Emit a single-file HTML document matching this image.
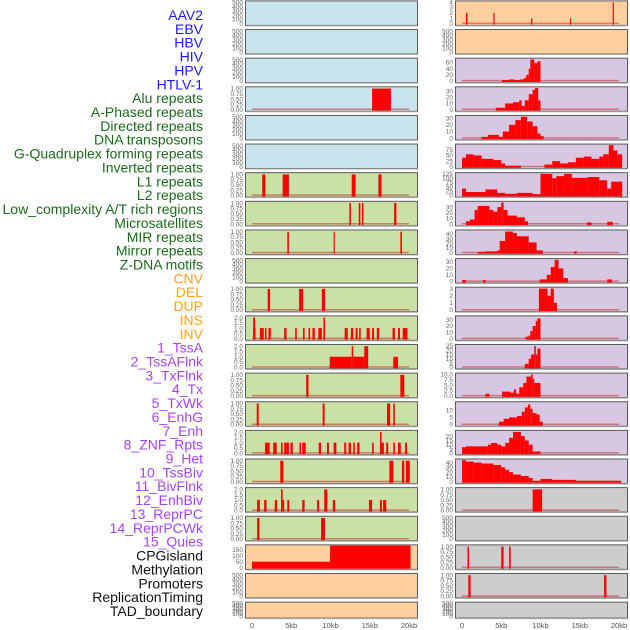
<!DOCTYPE html>
<html><head><meta charset="utf-8">
<style>
html,body{margin:0;padding:0;background:#fff;}
svg{display:block;font-family:"Liberation Sans",sans-serif;}
</style></head>
<body>
<svg id="chart" width="630" height="630" viewBox="0 0 630 630" xmlns="http://www.w3.org/2000/svg"></svg>
<script>
// ---- data ----
const trackLabels = ["AAV2","EBV","HBV","HIV","HPV","HTLV-1","Alu repeats","A-Phased repeats","Directed repeats","DNA transposons","G-Quadruplex forming repeats","Inverted repeats","L1 repeats","L2 repeats","Low_complexity A/T rich regions","Microsatellites","MIR repeats","Mirror repeats","Z-DNA motifs","CNV","DEL","DUP","INS","INV","1_TssA","2_TssAFlnk","3_TxFlnk","4_Tx","5_TxWk","6_EnhG","7_Enh","8_ZNF_Rpts","9_Het","10_TssBiv","11_BivFlnk","12_EnhBiv","13_ReprPC","14_ReprPCWk","15_Quies","CPGisland","Methylation","Promoters","ReplicationTiming","TAD_boundary"];
const labelGroups = ["v","v","v","v","v","v","r","r","r","r","r","r","r","r","r","r","r","r","r","s","s","s","s","s","c","c","c","c","c","c","c","c","c","c","c","c","c","c","c","o","o","o","o","o"];
const xTickValues = [0,5,10,15,20];
const xTickLabels = ["0","5kb","10kb","15kb","20kb"];

// left column segments [startKb, endKb, value]
const L0=[],L1=[],L2=[],L4=[],L5=[],L9=[],L20=[],L21=[];
const L3=[[15.3,17.7,1]];
const L6=[[1.3,1.7,1],[3.9,4.7,1],[12.7,13.2,1],[16.1,16.5,1]];
const L7=[[12.4,12.6,1],[13.6,13.8,1],[14.0,14.2,1],[18.1,18.4,1]];
const L8=[[4.5,4.7,1],[10.4,10.55,1],[18.9,19.1,1]];
const L10=[[2.0,2.3,1],[6.0,6.5,1],[8.9,9.3,1]];
const L11=[[0.15,0.4,2],[0.15,0.45,1],[1.0,1.5,1],[1.65,1.85,1],[2.1,2.4,1],[4.1,4.4,1],[5.5,5.7,1],[6.5,6.7,1],[7.2,7.4,1],[7.7,8.0,1],[8.45,8.9,1],[9.1,9.3,2],[9.1,9.3,1],[11.8,12.2,1],[12.6,12.9,1],[13.2,13.45,1],[13.65,13.85,1],[14.6,15.0,1],[15.3,15.55,1],[15.9,16.2,1],[17.9,18.2,1],[18.6,18.85,1],[19.2,19.8,1]];
const L12=[[9.9,12.7,1],[12.7,12.9,2],[12.9,14.3,1],[14.3,14.8,2],[18.0,18.6,1]];
const L13=[[6.9,7.2,1],[18.9,19.4,1]];
const L14=[[0.6,0.85,1],[9.0,9.25,1],[17.2,17.6,1],[18.0,18.2,1]];
const L15=[[1.65,2.25,1],[2.7,3.15,1],[3.7,3.9,1],[4.1,4.7,1],[4.9,5.2,1],[6.05,6.25,1],[6.4,6.85,1],[8.5,8.8,1],[9.55,9.8,1],[10.4,10.75,1],[11.75,12.0,1],[12.3,12.6,1],[12.9,13.1,1],[13.4,13.7,1],[15.3,15.5,1],[16.3,16.5,2],[16.5,16.8,1],[17.1,17.35,1],[18.0,18.2,1],[18.6,18.95,1],[19.5,19.75,1]];
const L16=[[3.6,4.0,1],[17.5,18.0,1],[19.1,19.4,1],[19.6,20.1,1]];
const L17=[[0.65,1.0,1],[1.55,1.85,1],[2.9,3.2,1],[3.7,3.9,2],[3.9,4.1,1],[4.5,4.75,1],[6.4,6.7,1],[8.3,8.55,1],[9.2,9.6,2],[10.3,10.6,1],[14.9,15.3,1],[16.3,16.55,1],[16.7,17.1,1]];
const L18=[[0.65,0.95,1],[8.8,9.3,1]];
const L19=[[0,9.95,50],[9.95,20.2,185]];

// right column segments
const R1=[],R18=[],R21=[];
const R0=[[0.5,0.7,2],[4.0,4.15,2],[8.8,8.95,1],[13.75,13.9,1],[19.2,19.35,4]];
const R2=[[5.1,6.0,3],[6.0,6.6,5],[6.6,7.4,3],[7.4,7.9,5],[7.9,8.2,10],[8.2,8.5,20],[8.5,8.7,40],[8.7,9.2,70],[9.2,9.6,58],[9.6,10.0,64]];
const R3=[[4.3,5.5,3],[5.5,6.5,10],[6.5,7.3,12],[7.3,7.6,15],[7.6,8.0,6],[8.0,8.5,15],[8.5,9.0,25],[9.0,9.3,32],[9.3,9.7,35],[9.7,10.0,15]];
const R4=[[2.5,3.3,2],[3.3,4.7,5],[4.7,5.2,2],[5.2,6.0,10],[6.0,6.8,20],[6.8,7.5,27],[7.5,8.3,32],[8.3,9.0,25],[9.0,9.6,18],[9.6,10.0,7],[10.0,10.4,3]];
const R5=[[0,0.5,40],[0.5,1.5,55],[1.5,2.5,50],[2.5,4.0,35],[4.0,5.0,30],[5.0,5.5,15],[5.5,7.5,5],[10.5,11.5,10],[11.5,12.5,25],[12.5,13.5,15],[13.5,14.5,20],[14.5,15.5,40],[15.5,16.5,45],[16.5,17.5,35],[17.5,18.0,45],[18.0,18.7,55],[18.7,19.3,95],[19.3,19.8,72],[19.8,20.4,55]];
const R6=[[0,0.5,40],[0.5,3.0,20],[3.0,4.5,35],[4.5,5.5,15],[5.5,7.0,10],[7.0,9.0,15],[9.0,10.0,8],[10.0,11.5,125],[11.5,12.0,100],[12.0,13.0,112],[13.0,14.0,125],[14.0,16.0,102],[16.0,17.5,107],[17.5,18.5,88],[18.5,19.0,40],[19.0,20.4,80]];
const R7=[[0.5,1.0,5],[1.0,1.6,8],[1.6,2.0,25],[2.0,3.5,32],[3.5,4.0,25],[4.0,4.5,22],[4.5,5.0,30],[5.0,5.3,38],[5.3,5.8,25],[5.8,7.0,15],[7.0,8.0,12],[8.0,8.4,5],[15.9,16.5,3],[18.5,19.2,4]];
const R8=[[2.0,3.0,2],[3.0,4.5,3],[4.5,4.8,5],[4.8,5.5,25],[5.5,6.5,45],[6.5,7.0,42],[7.0,8.5,35],[8.5,9.5,22],[9.5,10.3,5],[14.3,14.6,3]];
const R9=[[0,0.5,2],[2.7,3.0,2],[9.9,10.8,3],[10.8,11.3,10],[11.3,11.8,22],[11.8,12.3,33],[12.3,12.9,20],[12.9,13.5,5],[18.5,19.1,3]];
const R10=[[9.8,10.9,3],[10.9,11.3,2],[11.3,11.7,3],[11.7,12.1,1]];
const R11=[[8.1,8.5,3],[8.5,8.7,5],[8.7,9.0,12],[9.0,9.4,20],[9.4,9.6,28],[9.6,10.0,32]];
const R12=[[8.0,8.5,4],[8.5,8.8,10],[8.8,9.2,15],[9.2,9.4,25],[9.4,9.6,15],[9.6,10.0,22]];
const R13=[[3.0,3.5,1],[5.1,6.2,2],[6.2,6.6,1.5],[6.6,6.9,3],[6.9,7.3,1],[7.3,7.8,4],[7.8,8.2,6],[8.2,8.8,9],[8.8,9.0,10],[9.0,9.2,8],[9.2,10.0,6]];
const R14=[[4.7,5.3,2],[5.3,6.0,4],[6.0,7.0,5],[7.0,7.6,6],[7.6,8.0,9],[8.0,8.4,12],[8.4,8.7,14],[8.7,9.0,11],[9.0,9.5,8],[9.5,9.9,7],[9.9,10.3,2]];
const R15=[[0,0.5,7],[0.5,3.3,8],[3.3,3.7,10],[3.7,4.5,12],[4.5,5.0,10],[5.0,5.5,8],[5.5,6.0,12],[6.0,6.5,18],[6.5,7.5,25],[7.5,8.0,20],[8.0,8.5,15],[8.5,9.0,10],[9.0,10.0,2]];
const R16=[[0,0.5,45],[0.5,1.5,42],[1.5,2.5,40],[2.5,4.0,38],[4.0,5.0,35],[5.0,5.5,30],[5.5,6.0,25],[6.0,6.5,20],[6.5,7.5,15],[7.5,8.5,12],[8.5,9.0,8],[9.0,10.0,2],[10.0,11.5,6],[11.5,14.5,4],[14.5,20.3,2]];
const R17=[[9.0,10.2,1]];
const R19=[[0.7,0.9,1],[5.0,5.3,1],[6.0,6.2,1]];
const R20=[[0.8,1.1,1],[18.1,18.4,1]];

// y-axis tick sets
const T500=[0,100,200,300,400,500], T1=[0,0.25,0.5,0.75,1], T2=[0,0.5,1,1.5,2];
const leftSegs=[L0,L1,L2,L3,L4,L5,L6,L7,L8,L9,L10,L11,L12,L13,L14,L15,L16,L17,L18,L19,L20,L21];
const leftMax=[520,520,520,1.05,520,520,1.05,1.05,1.05,520,1.05,2.1,2.1,1.05,1.05,2.1,1.05,2.1,1.05,185,520,520];
const leftTicks=[T500,T500,T500,T1,T500,T500,T1,T1,T1,T500,T1,T2,T2,T1,T1,T2,T1,T2,T1,[0,50,100,150],T500,T500];
const leftBg=["b","b","b","b","b","b","g","g","g","g","g","g","g","g","g","g","g","g","g","o","o","o"];
const rightSegs=[R0,R1,R2,R3,R4,R5,R6,R7,R8,R9,R10,R11,R12,R13,R14,R15,R16,R17,R18,R19,R20,R21];
const rightMax=[4.1,520,72,36,33,97,128,39,47,34,3.1,35,26,10.3,15.5,26,46,1.05,520,1.05,1.05,520];
const rightTicks=[[0,1,2,3,4],T500,[0,20,40,60],[0,10,20,30],[0,10,20,30],[0,25,50,75],[0,25,50,75,100,125],[0,10,20,30],[0,10,20,30,40],[0,10,20,30],[0,1,2,3],[0,10,20,30],[0,5,10,15,20,25],[0,2.5,5,7.5,10],[0,5,10],[0,5,10,15,20],[0,10,20,30,40],T1,T500,T1,T1,T500];
const rightBg=["o","o","p","p","p","p","p","p","p","p","p","p","p","p","p","p","p","y","y","y","y","y"];

// ---- drawing ----
const NS="http://www.w3.org/2000/svg";
const svg=document.getElementById("chart");
const bgColors={b:"#c9e4ec",g:"#c9e1a5",o:"#fed09f",p:"#d7c7e2",y:"#cdcdcd"};
const labelColors={v:"#1a1aff",r:"#1b6b1b",s:"#ffa31a",c:"#a444f2",o:"#111111"};
const colX=[245,455], panelW=172;
function rowTop(i){return 0.4+i*28.63;}
function rowH(i){return i===21?16:24.5;}
function xScale(col,kb){return colX[col]+7+kb*7.85;}
function yScale(i,v,ymax){const t=rowTop(i)+1.2,b=rowTop(i)+rowH(i)-1.2;return b-(v/ymax)*(b-t);}
function mk(tag,attrs,parent){const e=document.createElementNS(NS,tag);for(const k in attrs)e.setAttribute(k,attrs[k]);(parent||svg).appendChild(e);return e;}
function fmt(ticks,v){
  let d=0;
  if(ticks.some(t=>Math.abs(t*2-Math.round(t*2))>1e-9)) d=2;
  else if(ticks.some(t=>Math.abs(t-Math.round(t))>1e-9)) d=1;
  return v.toFixed(d);
}

// labels
trackLabels.forEach((t,i)=>{
  const e=mk("text",{x:203,y:15+i*13.86+5,"text-anchor":"end","font-size":"14",fill:labelColors[labelGroups[i]]});
  e.textContent=t;
  
  
});

function drawPanel(col,i,segs,ymax,ticks,bg){
  const g=mk("g",{});
  
  
  const top=rowTop(i),h=rowH(i);
  mk("rect",{x:colX[col]+0.5,y:top+0.5,width:panelW,height:h,fill:bgColors[bg],stroke:"#5a5a5a","stroke-width":"1"},g);
  mk("line",{x1:colX[col]+1,y1:top+h+1,x2:colX[col]+panelW+1,y2:top+h+1,stroke:"#aaa","stroke-width":"1"},g);
  ticks.forEach(t=>{
    const y=yScale(i,t,ymax);
    const e=mk("text",{x:colX[col]-2,y:y+2.2,"text-anchor":"end","font-size":"6.5",fill:"#666"},g);
    e.textContent=fmt(ticks,t);
    
    
  });
  if(segs.length){
    mk("line",{x1:xScale(col,0),x2:xScale(col,20),y1:yScale(i,0,ymax)-0.3,y2:yScale(i,0,ymax)-0.3,stroke:"rgba(205,40,40,0.55)","stroke-width":"1.5"},g);
  }
  segs.forEach(s=>{
    const x1=xScale(col,s[0]),x2=xScale(col,s[1]);
    const y=Math.max(yScale(i,s[2],ymax),top+0.5);
    const r=mk("rect",{x:x1,y:y,width:Math.max(x2-x1,1.2),height:yScale(i,0,ymax)-y+1,fill:"#ff0000"},g);
    
    
  });
}
for(let i=0;i<22;i++){
  drawPanel(0,i,leftSegs[i],leftMax[i],leftTicks[i],leftBg[i]);
  drawPanel(1,i,rightSegs[i],rightMax[i],rightTicks[i],rightBg[i]);
}
// x axes
[0,1].forEach(col=>{
  xTickValues.forEach((v,k)=>{
    const e=mk("text",{x:xScale(col,v),y:628,"text-anchor":"middle","font-size":"7.5",fill:"#555"});
    e.textContent=xTickLabels[k];
    
    
  });
});
</script>
</body></html>
